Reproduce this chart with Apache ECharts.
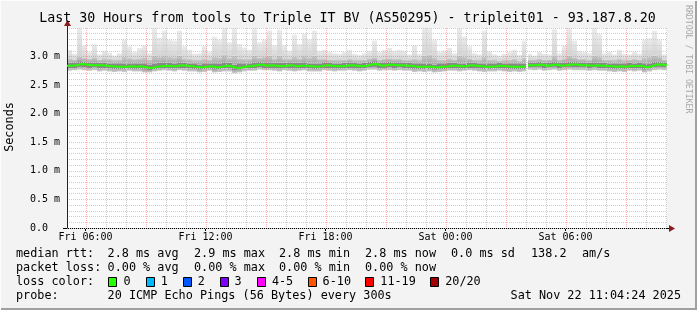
<!DOCTYPE html>
<html><head><meta charset="utf-8">
<script src="https://cdn.jsdelivr.net/npm/echarts@6/dist/echarts.min.js"></script>
<style>html,body{margin:0;padding:0;background:#f3f3f3}#c{width:697px;height:310px}</style>
</head><body><div id="c"></div>
<script>
// ---- time frame (hours counted from Fri 00:00) ----
const startHour = 5 + 4/60 + 24/3600;   // Fri 05:04:24
const spanHours = 30;
const binHours = 0.25;                   // one bin = 15 minutes
const missing = [[28.02, 28.12]];        // no data (Sat ~04:01-04:07)

// ---- median rtt (ms) per bin ----
const median = [
2.84,2.85,2.87,2.86,2.85,2.85,2.85,2.84,2.83,2.82,2.82,2.82,2.83,2.82,2.83,2.81,2.80,2.82,2.83,2.84,
2.83,2.83,2.85,2.84,2.83,2.82,2.81,2.82,2.83,2.81,2.82,2.84,2.83,2.80,2.81,2.83,2.83,2.85,2.86,2.84,
2.85,2.84,2.83,2.84,2.85,2.83,2.84,2.84,2.83,2.82,2.83,2.85,2.84,2.83,2.83,2.84,2.85,2.84,2.83,2.84,
2.86,2.87,2.84,2.85,2.86,2.85,2.85,2.84,2.84,2.82,2.82,2.82,2.82,2.81,2.82,2.82,2.84,2.84,2.83,2.83,
2.85,2.84,2.83,2.82,2.82,2.83,2.84,2.83,2.82,2.82,2.82,2.82,2.85,2.85,2.86,2.84,2.85,2.86,2.84,2.85,
2.86,2.86,2.85,2.85,2.84,2.85,2.84,2.84,2.83,2.82,2.83,2.82,2.84,2.83,2.84,2.81,2.83,2.86,2.86,2.85];
// ---- smoke: fastest ping ----
const pMin = [
2.75,2.76,2.77,2.76,2.75,2.76,2.74,2.75,2.74,2.73,2.74,2.73,2.75,2.74,2.74,2.72,2.72,2.74,2.75,2.76,
2.75,2.74,2.76,2.75,2.74,2.74,2.72,2.73,2.75,2.72,2.73,2.74,2.74,2.71,2.72,2.74,2.75,2.75,2.77,2.76,
2.76,2.75,2.74,2.76,2.75,2.74,2.75,2.76,2.74,2.74,2.74,2.76,2.75,2.74,2.75,2.75,2.76,2.75,2.74,2.75,
2.77,2.77,2.75,2.76,2.76,2.75,2.76,2.75,2.75,2.73,2.74,2.73,2.74,2.72,2.73,2.74,2.75,2.75,2.74,2.75,
2.76,2.75,2.74,2.73,2.74,2.74,2.75,2.74,2.73,2.74,2.73,2.74,2.77,2.76,2.77,2.75,2.76,2.77,2.75,2.76,
2.77,2.76,2.76,2.76,2.75,2.76,2.75,2.75,2.74,2.73,2.74,2.73,2.75,2.74,2.75,2.72,2.74,2.76,2.77,2.76];
// ---- smoke: lower edge of dense part ----
const pLow = [
2.80,2.80,2.82,2.81,2.80,2.81,2.80,2.80,2.79,2.78,2.78,2.78,2.79,2.78,2.79,2.77,2.76,2.78,2.79,2.80,
2.79,2.79,2.80,2.80,2.79,2.78,2.77,2.78,2.79,2.77,2.78,2.79,2.79,2.76,2.77,2.79,2.79,2.80,2.81,2.80,
2.80,2.80,2.79,2.80,2.80,2.79,2.80,2.80,2.79,2.78,2.79,2.80,2.80,2.79,2.79,2.80,2.80,2.80,2.79,2.80,
2.81,2.82,2.80,2.80,2.81,2.80,2.81,2.80,2.80,2.78,2.78,2.78,2.78,2.77,2.78,2.78,2.80,2.80,2.79,2.79,
2.80,2.80,2.79,2.78,2.78,2.79,2.80,2.79,2.78,2.78,2.78,2.78,2.81,2.81,2.82,2.80,2.81,2.82,2.80,2.81,
2.82,2.81,2.81,2.81,2.80,2.81,2.80,2.80,2.79,2.78,2.79,2.78,2.80,2.79,2.80,2.77,2.79,2.81,2.82,2.81];
// ---- smoke: upper edge of dense part ----
const pHigh = [
2.89,2.90,2.92,2.91,2.90,2.90,2.89,2.89,2.88,2.87,2.87,2.88,2.88,2.87,2.88,2.87,2.86,2.88,2.89,2.90,
2.89,2.88,2.90,2.89,2.88,2.87,2.86,2.87,2.88,2.87,2.88,2.90,2.89,2.86,2.87,2.88,2.88,2.90,2.91,2.90,
2.90,2.89,2.89,2.89,2.90,2.89,2.89,2.90,2.88,2.88,2.88,2.90,2.89,2.88,2.88,2.89,2.90,2.89,2.88,2.89,
2.91,2.92,2.89,2.90,2.91,2.90,2.90,2.89,2.89,2.87,2.87,2.88,2.88,2.86,2.87,2.87,2.89,2.89,2.88,2.88,
2.90,2.89,2.88,2.88,2.87,2.88,2.89,2.88,2.87,2.87,2.87,2.88,2.90,2.90,2.91,2.89,2.90,2.91,2.89,2.90,
2.91,2.91,2.90,2.90,2.89,2.90,2.89,2.89,2.88,2.87,2.88,2.87,2.89,2.88,2.89,2.87,2.88,2.91,2.91,2.90];
// ---- smoke: upper edge of medium part ----
const pUp = [
2.97,2.95,3.00,2.98,2.96,2.99,2.95,2.97,2.96,2.94,2.95,3.00,2.98,2.96,2.97,2.99,2.95,3.02,3.00,3.01,
3.00,2.99,3.02,2.97,2.96,2.94,2.95,2.97,2.95,3.00,2.99,3.03,2.98,3.02,2.97,2.96,2.96,3.02,2.98,3.00,
3.02,2.97,3.02,2.97,2.96,3.00,2.97,3.01,2.99,3.02,2.96,2.96,2.95,2.95,2.94,2.95,2.96,2.94,2.94,2.95,
2.97,2.99,2.95,2.96,2.97,2.96,2.96,2.95,2.94,2.96,2.94,3.02,3.03,2.99,2.95,2.95,2.97,2.95,3.02,3.00,
2.97,2.95,2.94,3.00,2.95,2.94,2.93,2.94,2.95,2.96,2.93,2.98,2.95,2.94,2.96,2.95,2.95,3.01,2.95,2.97,
3.02,2.99,2.96,2.96,2.95,3.02,3.00,2.95,2.95,2.94,2.96,2.94,2.95,2.96,2.95,2.99,3.00,3.02,3.00,2.95];
// ---- smoke: slowest ping ----
const pMax = [
3.12,3.05,3.50,3.20,3.08,3.22,3.04,3.10,3.07,3.02,3.06,3.30,3.18,3.08,3.15,3.20,3.06,3.50,3.33,3.45,
3.30,3.28,3.45,3.18,3.12,3.05,3.06,3.18,3.08,3.35,3.30,3.50,3.25,3.50,3.22,3.16,3.12,3.50,3.25,3.30,
3.45,3.20,3.47,3.20,3.10,3.38,3.22,3.40,3.30,3.45,3.10,3.12,3.08,3.06,3.05,3.08,3.12,3.05,3.03,3.06,
3.10,3.28,3.08,3.12,3.15,3.10,3.12,3.10,3.04,3.20,3.05,3.50,3.50,3.30,3.08,3.10,3.15,3.06,3.50,3.35,
3.18,3.06,3.04,3.45,3.10,3.04,3.02,3.05,3.08,3.12,3.03,3.28,3.05,3.02,3.08,3.05,3.04,3.48,3.06,3.20,
3.50,3.28,3.10,3.08,3.06,3.50,3.40,3.06,3.08,3.04,3.12,3.05,3.04,3.08,3.05,3.30,3.32,3.45,3.30,3.04];

// ---- axes / labels ----
const yMax = 3.5, yStep = 0.5;
const yMajorValues = [3.0];
const xLabelHours = [6, 12, 18, 24, 30];
const xLabels = ['Fri 06:00', 'Fri 12:00', 'Fri 18:00', 'Sat 00:00', 'Sat 06:00'];
const titleText = 'Last 30 Hours from tools to Triple IT BV (AS50295) - tripleit01 - 93.187.8.20';
const lossLabels = ['0', '1', '2', '3', '4-5', '6-10', '11-19', '20/20'];
const lossColors = ['#26ff00', '#00b8ff', '#0059ff', '#7e00ff', '#ff00ff', '#ff5500', '#ff0000', '#a10000'];

// ---- build bins (split by missing intervals) ----
const endHour = startHour + spanHours;
const smokeData = [];
const medianData = [];
for (let i = 0; i < median.length; i++) {
  let segs = [[startHour + i * binHours, startHour + (i + 1) * binHours]];
  missing.forEach(([a, b]) => {
    const out = [];
    segs.forEach(([s0, s1]) => {
      if (b <= s0 || a >= s1) { out.push([s0, s1]); return; }
      if (a > s0) out.push([s0, a]);
      if (b < s1) out.push([b, s1]);
    });
    segs = out;
  });
  segs.forEach(([s0, s1]) => {
    smokeData.push([s0, s1, pMin[i], pLow[i], pHigh[i], pUp[i], pMax[i]]);
    const prev = medianData[medianData.length - 1];
    if (prev && Math.abs(prev[0] - s0) > 1e-9) medianData.push([prev[0], '-']);
    medianData.push([s0, median[i]]);
    medianData.push([s1, median[i]]);
  });
}
const gridHours = [];
for (let h = Math.ceil(startHour); h < endHour; h++) gridHours.push(h);

const LG = echarts.graphic.LinearGradient;
const smokeFills = [
  new LG(0, 0, 0, 1, [{ offset: 0, color: '#a8a8a8' }, { offset: 1, color: '#cfcfcf' }]),
  '#888888',
  new LG(0, 0, 0, 1, [{ offset: 0, color: '#cccccc' }, { offset: 1, color: '#a6a6a6' }]),
  new LG(0, 0, 0, 1, [{ offset: 0, color: '#ebebeb' }, { offset: 1, color: '#d4d4d4' }])
];
const mono = '"DejaVu Sans Mono", "Liberation Mono", monospace';
const majorGrid = 'rgba(255,110,110,0.55)';
const minorGrid = '#cdcdcd';
const ySplitColors = [];
for (let k = 0; k * yStep <= yMax + 1e-9; k++) {
  ySplitColors.push(yMajorValues.some(v => Math.abs(v - k * yStep) < 1e-9) ? majorGrid : minorGrid);
}

const chart = echarts.init(document.getElementById('c'), null, { renderer: 'canvas' });
const option = {
  animation: false,
  backgroundColor: '#f3f3f3',
  grid: { left: 67, right: 30, top: 28, bottom: 82, show: true, backgroundColor: '#ffffff', borderWidth: 0 },
  xAxis: {
    type: 'value', min: startHour, max: endHour,
    axisLine: { show: true, lineStyle: { color: '#000', width: 1 } },
    axisTick: { show: true, customValues: xLabelHours, length: 3, lineStyle: { color: '#000' } },
    axisLabel: {
      customValues: xLabelHours, margin: 4,
      formatter: v => { const k = xLabelHours.indexOf(Math.round(v)); return k >= 0 ? xLabels[k] : ''; },
      fontFamily: mono, fontSize: 10, color: '#000'
    },
    splitLine: { show: false }
  },
  yAxis: {
    type: 'value', min: 0, max: yMax, interval: yStep, z: 3,
    axisLine: { show: true, lineStyle: { color: '#222', width: 1 } },
    axisTick: { show: false },
    axisLabel: {
      margin: 37, align: 'left', fontFamily: mono, fontSize: 10, color: '#000',
      formatter: v => v === 0 ? '0.0' : (v >= yMax ? '' : v.toFixed(1) + ' m')
    },
    splitLine: { show: true, lineStyle: { color: ySplitColors, type: [1, 1], width: 1 } },
    minorTick: { show: false, splitNumber: 5 },
    minorSplitLine: { show: true, lineStyle: { color: minorGrid, type: [1, 1], width: 1 } }
  },
  series: [
    {
      type: 'custom', name: 'smoke', z: 2, clip: true,
      data: smokeData,
      encode: { x: [0, 1], y: [2, 6] },
      renderItem: (params, api) => {
        const s0 = api.value(0), s1 = api.value(1);
        const lv = [api.value(2), api.value(3), api.value(4), api.value(5), api.value(6)];
        const children = [];
        for (let b = 0; b < 4; b++) {
          const pa = api.coord([s0, lv[b + 1]]);
          const pb = api.coord([s1, lv[b]]);
          children.push({ type: 'rect', shape: { x: pa[0], y: pa[1], width: pb[0] - pa[0], height: pb[1] - pa[1] },
            style: { fill: smokeFills[b] } });
        }
        return { type: 'group', children };
      }
    },
    {
      type: 'custom', name: 'hourGrid', z: 4, clip: true, silent: true,
      data: gridHours.map(h => [h]),
      encode: { x: 0 },
      renderItem: (params, api) => {
        const h = api.value(0);
        const top = api.coord([h, yMax]), bot = api.coord([h, 0]);
        const x = Math.round(top[0]) + 0.5;
        const major = (h % 3) === 0;
        return { type: 'line', shape: { x1: x, y1: top[1], x2: x, y2: bot[1] },
          style: { stroke: major ? majorGrid : minorGrid, lineWidth: 1, lineDash: [1, 1] } };
      }
    },
    {
      type: 'line', name: 'median', z: 6, data: medianData, showSymbol: false, symbol: 'none',
      connectNulls: false,
      lineStyle: { color: '#26ff00', width: 2 }
    }
  ]
};
chart.setOption(option);

// ---- decorations: axis arrows, texts, legend ----
const o = chart.convertToPixel({ gridIndex: 0 }, [startHour, yMax]);
const e = chart.convertToPixel({ gridIndex: 0 }, [endHour, 0]);
const arrowColor = '#8b1a1a';
const g = [
  { type: 'line', shape: { x1: o[0] + 0.5, y1: o[1] - 2, x2: o[0] + 0.5, y2: o[1] }, style: { stroke: '#222' } },
  { type: 'polygon', shape: { points: [[o[0] + 0.5, o[1] - 8], [o[0] - 3, o[1] - 2], [o[0] + 4, o[1] - 2]] }, style: { fill: arrowColor } },
  { type: 'line', shape: { x1: e[0], y1: e[1] + 0.5, x2: e[0] + 2, y2: e[1] + 0.5 }, style: { stroke: '#000' } },
  { type: 'polygon', shape: { points: [[e[0] + 8, e[1] + 0.5], [e[0] + 2, e[1] - 3], [e[0] + 2, e[1] + 4]] }, style: { fill: arrowColor } },
  { type: 'line', shape: { x1: o[0] - 4, y1: e[1] + 0.5, x2: o[0], y2: e[1] + 0.5 }, style: { stroke: '#000' } }
];
function txt(x, y, s, size, opts) {
  opts = opts || {};
  return { type: 'text', x: x, y: y, rotation: opts.rot || 0, z: 10,
    style: { x: 0, y: 0, text: s, font: size + 'px ' + mono, fill: opts.fill || '#000',
      align: opts.align || 'left', textAlign: opts.align || 'left', verticalAlign: 'middle', textVerticalAlign: 'middle' } };
}
g.push(txt(347.5, 19, titleText, 13.3, { align: 'center' }));
g.push(txt(10, 127, 'Seconds', 11.8, { align: 'center', rot: Math.PI / 2 }));
g.push(txt(688, 5, 'RRDTOOL / TOBI OETIKER', 8.2, { rot: -Math.PI / 2, fill: '#a8a8a8' }));
const L = 11.8;
[[16, 'median rtt:'], [107.6, '2.8 ms avg'], [194, '2.9 ms max'], [279, '2.8 ms min'], [365, '2.8 ms now'],
 [451, '0.0 ms sd'], [531, '138.2'], [582, 'am/s']].forEach(([x, s]) => g.push(txt(x, 254, s, L)));
[[16, 'packet loss:'], [107.6, '0.00 % avg'], [194, '0.00 % max'], [279, '0.00 % min'], [365, '0.00 % now']]
  .forEach(([x, s]) => g.push(txt(x, 268, s, L)));
g.push(txt(16, 282, 'loss color:', L));
const boxX = [108.4, 145.8, 182.7, 219.6, 256.9, 307.6, 365.3, 430.2];
lossLabels.forEach((lab, k) => {
  g.push({ type: 'rect', z: 10, shape: { x: Math.round(boxX[k]) + 0.5, y: 277.5, width: 8, height: 9 },
    style: { fill: lossColors[k], stroke: '#000', lineWidth: 1 } });
  g.push(txt(boxX[k] + 15, 282, lab, L));
});
g.push(txt(16, 296, 'probe:', L));
g.push(txt(107.6, 296, '20 ICMP Echo Pings (56 Bytes) every 300s', L));
g.push(txt(681, 296, 'Sat Nov 22 11:04:24 2025', L, { align: 'right' }));
// frame
g.push({ type: 'rect', z: 10, shape: { x: 0, y: 308, width: 697, height: 2 }, style: { fill: '#a0a0a0' } });
g.push({ type: 'rect', z: 10, shape: { x: 695, y: 0, width: 2, height: 310 }, style: { fill: '#a0a0a0' } });
g.push({ type: 'rect', z: 10, shape: { x: 0, y: 0, width: 697, height: 1 }, style: { fill: '#fcfcfc' } });
g.push({ type: 'rect', z: 10, shape: { x: 0, y: 0, width: 1, height: 310 }, style: { fill: '#fcfcfc' } });
chart.setOption({ graphic: { elements: g } });
</script></body></html>
